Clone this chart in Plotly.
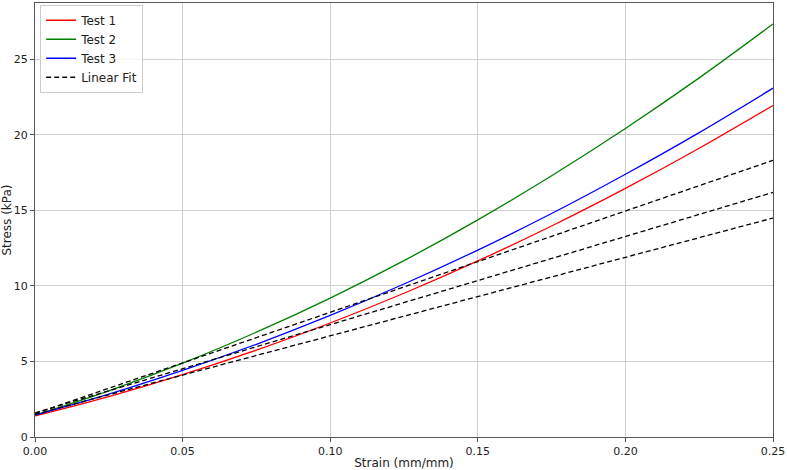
import plotly.graph_objects as go

strain = [0.0, 0.025, 0.05, 0.075, 0.10, 0.125, 0.15, 0.175, 0.20, 0.225, 0.25]
test1 = [1.40, 2.68, 4.13, 5.75, 7.55, 9.52, 11.66, 13.97, 16.46, 19.12, 21.95]
test2 = [1.45, 3.06, 4.89, 6.94, 9.20, 11.68, 14.38, 17.30, 20.43, 23.78, 27.35]
test3 = [1.45, 2.84, 4.41, 6.14, 8.05, 10.13, 12.38, 14.80, 17.40, 20.16, 23.10]

fit_x = [0.0, 0.25]
fit1 = [1.50, 14.50]
fit2 = [1.55, 18.32]
fit3 = [1.60, 16.20]

FONT = "DejaVu Sans"

fig = go.Figure()
for name, ys, col in [("Test 1", test1, "#ff0000"), ("Test 2", test2, "#008000"), ("Test 3", test3, "#0000ff")]:
    fig.add_trace(go.Scatter(x=strain, y=ys, mode="lines", name=name,
                             line=dict(color=col, width=1.3, shape="spline")))
for i, ys in enumerate([fit1, fit2, fit3]):
    fig.add_trace(go.Scatter(x=fit_x, y=ys, mode="lines", name="Linear Fit",
                             showlegend=(i == 0),
                             line=dict(color="black", width=1.3, dash="5px,3px")))

axis_common = dict(showline=True, mirror=True, linecolor="#555555", linewidth=1,
                   showgrid=True, gridcolor="#d0d0d0", gridwidth=1,
                   ticks="outside", ticklen=4, tickcolor="#555555",
                   tickfont=dict(family=FONT, size=11, color="#222222"),
                   zeroline=False, automargin=False, ticklabeloverflow="allow")

fig.update_layout(
    width=787, height=470,
    margin=dict(l=35, r=14, t=3, b=33),
    plot_bgcolor="white", paper_bgcolor="white",
    font=dict(family=FONT, size=12, color="#222222"),
    xaxis=dict(range=[0, 0.25], dtick=0.05, tickformat=".2f",
               title=dict(text="Strain (mm/mm)", font=dict(family=FONT, size=12), standoff=2),
               **axis_common),
    yaxis=dict(range=[0, 28.74], dtick=5,
               title=dict(text="Stress (kPa)", font=dict(family=FONT, size=12), standoff=4),
               **axis_common),
    legend=dict(x=0.007, y=0.996, xanchor="left", yanchor="top",
                bgcolor="rgba(255,255,255,0.8)", bordercolor="#cccccc", borderwidth=1,
                font=dict(family=FONT, size=12), tracegroupgap=0, itemwidth=30),
    showlegend=True,
)

fig.write_html("out.html")
